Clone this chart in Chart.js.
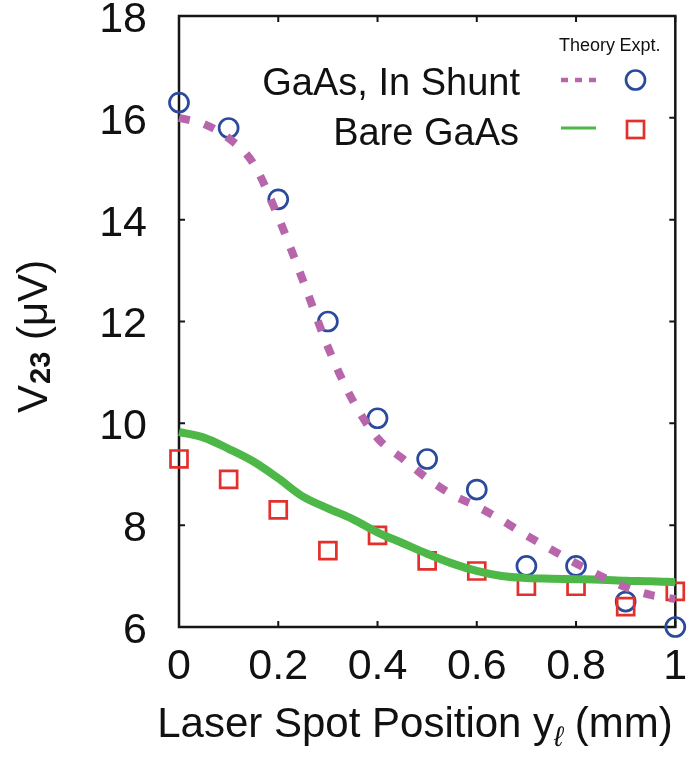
<!DOCTYPE html>
<html>
<head>
<meta charset="utf-8">
<script src="https://cdn.jsdelivr.net/npm/chart.js@4.4.0/dist/chart.umd.min.js"></script>
<style>
  html, body { margin: 0; padding: 0; background: #fff; }
</style>
</head>
<body>
<canvas id="myChart" width="690" height="757"></canvas>
<script>
// measured points (laser spot position in mm, voltage in uV)
let positions = [0, 0.1, 0.2, 0.3, 0.4, 0.5, 0.6, 0.7, 0.8, 0.9, 1];
let shuntExpt = [16.3, 15.8, 14.4, 12.0, 10.1, 9.3, 8.7, 7.2, 7.2, 6.5, 6.0];
let bareExpt = [9.3, 8.9, 8.3, 7.5, 7.8, 7.3, 7.1, 6.8, 6.8, 6.4, 6.7];

// model curves
let theoryPositions = [0, 0.05, 0.1, 0.15, 0.2, 0.25, 0.3, 0.35, 0.4, 0.45, 0.5,
                       0.55, 0.6, 0.65, 0.7, 0.75, 0.8, 0.85, 0.9, 0.95, 1];
let shuntTheory = [16.0, 15.88, 15.6, 15.1, 14.05, 12.8, 11.5, 10.45, 9.71, 9.31, 8.92,
                   8.6, 8.37, 8.1, 7.8, 7.52, 7.25, 7.0, 6.78, 6.63, 6.55];
let bareTheory = [9.83, 9.72, 9.5, 9.25, 8.92, 8.56, 8.33, 8.12, 7.86, 7.65, 7.44,
                  7.25, 7.1, 7.0, 6.96, 6.95, 6.94, 6.93, 6.91, 6.9, 6.88];

let xMin = 0, xMax = 1, xStep = 0.2;
let yMin = 6, yMax = 18, yStep = 2;

const FONT = '"Liberation Sans", Arial, Helvetica, sans-serif';
const PURPLE = '#b866ab';
const GREEN = '#4db848';
const BLUE = '#2b4a9c';
const RED = '#e2312d';

function toPoints(xs, ys) {
    return xs.map((x, i) => ({ x: x, y: ys[i] }));
}

// box around the plot with inward tick marks on all four sides
const framePlugin = {
    id: 'frame',
    beforeDatasetsDraw(chart) {
        const ctx = chart.ctx;
        const a = chart.chartArea;
        const sx = chart.scales.x, sy = chart.scales.y;
        ctx.save();
        ctx.strokeStyle = '#151515';
        ctx.lineWidth = 2;
        sx.ticks.forEach(t => {
            const px = sx.getPixelForValue(t.value);
            ctx.beginPath();
            ctx.moveTo(px, a.bottom); ctx.lineTo(px, a.bottom - 6);
            ctx.moveTo(px, a.top); ctx.lineTo(px, a.top + 6);
            ctx.stroke();
        });
        sy.ticks.forEach(t => {
            const py = sy.getPixelForValue(t.value);
            ctx.beginPath();
            ctx.moveTo(a.left, py); ctx.lineTo(a.left + 6, py);
            ctx.moveTo(a.right, py); ctx.lineTo(a.right - 6, py);
            ctx.stroke();
        });
        ctx.lineWidth = 2.5;
        ctx.strokeRect(a.left, a.top, a.right - a.left, a.bottom - a.top);
        ctx.restore();
    }
};

// axis titles with subscripts, and the two-column key
const labelsPlugin = {
    id: 'labels',
    afterDraw(chart) {
        const ctx = chart.ctx;
        ctx.save();
        ctx.fillStyle = '#111';
        ctx.textBaseline = 'alphabetic';
        ctx.textAlign = 'left';

        // y title: V_23 (uV), rotated
        ctx.save();
        ctx.translate(47, 413);
        ctx.rotate(-Math.PI / 2);
        ctx.font = '42px ' + FONT;
        ctx.fillText('V', 0, 0);
        let w = ctx.measureText('V').width;
        ctx.font = 'bold 29px ' + FONT;
        ctx.fillText('23', w + 1, 3);
        w += 1 + ctx.measureText('23').width;
        ctx.font = '42px ' + FONT;
        ctx.fillText(' (\u03bcV)', w, 0);
        ctx.restore();

        // x title: Laser Spot Position y_l (mm)
        ctx.font = '42px ' + FONT;
        const p1 = 'Laser Spot Position y';
        const p3 = ' (mm)';
        const w1 = ctx.measureText(p1).width;
        const w3 = ctx.measureText(p3).width;
        ctx.font = 'italic 28px ' + FONT;
        const w2 = ctx.measureText('\u2113').width;
        let x0 = 415 - (w1 + w2 + w3) / 2;
        ctx.font = '42px ' + FONT;
        ctx.fillText(p1, x0, 737);
        ctx.font = 'italic 28px ' + FONT;
        ctx.fillText('\u2113', x0 + w1, 746);
        ctx.font = '42px ' + FONT;
        ctx.fillText(p3, x0 + w1 + w2, 737);

        // key
        ctx.font = '18px ' + FONT;
        ctx.textAlign = 'center';
        ctx.fillText('Theory', 587, 51);
        ctx.fillText('Expt.', 640, 51);
        ctx.font = '38px ' + FONT;
        ctx.textAlign = 'right';
        ctx.fillText('GaAs, In Shunt', 520, 95);
        ctx.fillText('Bare GaAs', 519, 145);

        ctx.strokeStyle = PURPLE;
        ctx.lineWidth = 4.5;
        ctx.setLineDash([7, 7]);
        ctx.beginPath();
        ctx.moveTo(561, 80); ctx.lineTo(596, 80);
        ctx.stroke();
        ctx.setLineDash([]);

        ctx.strokeStyle = GREEN;
        ctx.lineWidth = 3;
        ctx.beginPath();
        ctx.moveTo(561, 128); ctx.lineTo(596, 128);
        ctx.stroke();

        ctx.strokeStyle = BLUE;
        ctx.lineWidth = 2.7;
        ctx.beginPath();
        ctx.arc(635.5, 80, 9.5, 0, Math.PI * 2);
        ctx.stroke();

        ctx.strokeStyle = RED;
        ctx.strokeRect(627, 121, 17, 17);
        ctx.restore();
    }
};

let ctx = document.getElementById('myChart').getContext('2d');

let chart = new Chart(ctx, {
    type: 'scatter',
    data: {
        datasets: [
            {
                label: 'GaAs, In Shunt (Expt.)',
                data: toPoints(positions, shuntExpt),
                pointStyle: 'circle',
                pointRadius: 9.5,
                borderColor: BLUE,
                backgroundColor: 'rgba(0,0,0,0)',
                pointBorderWidth: 2.7,
                clip: false,
                order: 4
            },
            {
                label: 'Bare GaAs (Expt.)',
                data: toPoints(positions, bareExpt),
                pointStyle: 'rect',
                pointRadius: 12,
                borderColor: RED,
                backgroundColor: 'rgba(0,0,0,0)',
                pointBorderWidth: 2.7,
                clip: false,
                order: 3
            },
            {
                label: 'Bare GaAs (Theory)',
                data: toPoints(theoryPositions, bareTheory),
                showLine: true,
                pointRadius: 0,
                borderColor: GREEN,
                borderWidth: 8,
                cubicInterpolationMode: 'monotone',
                clip: false,
                order: 2
            },
            {
                label: 'GaAs, In Shunt (Theory)',
                data: toPoints(theoryPositions, shuntTheory),
                showLine: true,
                pointRadius: 0,
                borderColor: PURPLE,
                borderWidth: 8,
                borderDash: [11, 15],
                borderCapStyle: 'butt',
                cubicInterpolationMode: 'monotone',
                clip: false,
                order: 1
            }
        ]
    },
    options: {
        responsive: false,
        animation: false,
        devicePixelRatio: 1,
        layout: { padding: { top: 16, right: 12, bottom: 0, left: 0 } },
        plugins: {
            legend: { display: false },
            tooltip: { enabled: false }
        },
        scales: {
            x: {
                type: 'linear',
                min: xMin,
                max: xMax,
                grid: { display: false, drawTicks: false },
                border: { display: false },
                ticks: {
                    stepSize: xStep,
                    padding: 14,
                    color: '#111',
                    font: { family: FONT, size: 43 },
                    maxRotation: 0,
                    callback: v => String(Number(v.toFixed(1)))
                },
                afterFit(scale) {
                    scale.height = 130;
                    scale.paddingLeft = 0;
                    scale.paddingRight = 0;
                }
            },
            y: {
                type: 'linear',
                min: yMin,
                max: yMax,
                grid: { display: false, drawTicks: false },
                border: { display: false },
                ticks: {
                    stepSize: yStep,
                    padding: 32,
                    labelOffset: 4,
                    color: '#111',
                    font: { family: FONT, size: 43 }
                },
                afterFit(scale) {
                    scale.width = 179;
                    scale.paddingTop = 0;
                    scale.paddingBottom = 0;
                }
            }
        }
    },
    plugins: [framePlugin, labelsPlugin]
});
</script>
</body>
</html>
